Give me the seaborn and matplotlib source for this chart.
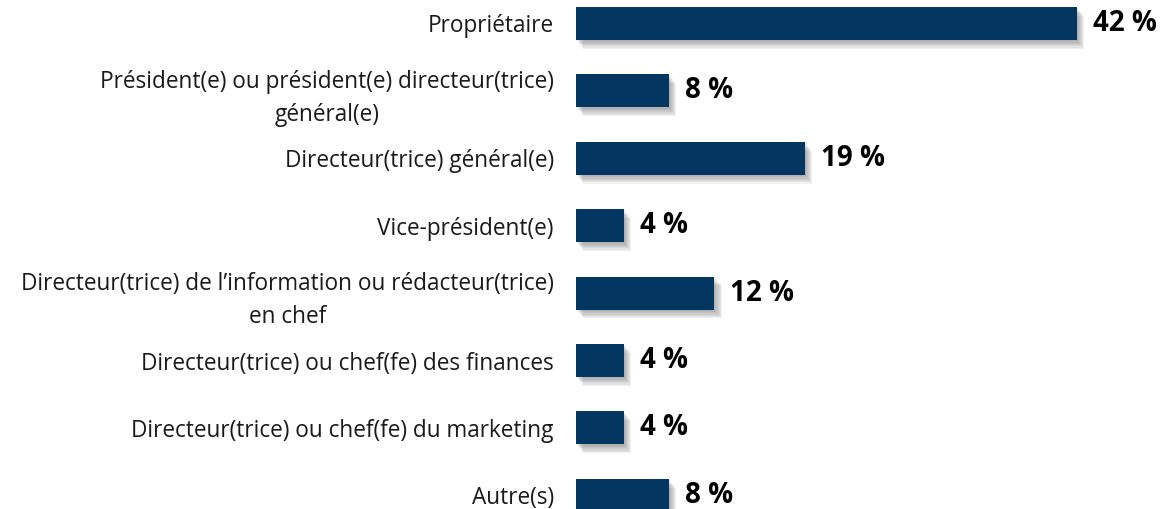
import matplotlib
matplotlib.use("Agg")
import matplotlib.pyplot as plt
import matplotlib.patheffects as pe
import seaborn as sns
import pandas as pd

categories = [
    "Propriétaire",
    "Président(e) ou président(e) directeur(trice)\ngénéral(e)",
    "Directeur(trice) général(e)",
    "Vice-président(e)",
    "Directeur(trice) de l’information ou rédacteur(trice)\nen chef",
    "Directeur(trice) ou chef(fe) des finances",
    "Directeur(trice) ou chef(fe) du marketing",
    "Autre(s)",
]
values = [42.0, 7.8, 19.2, 4.0, 11.6, 4.0, 4.0, 7.8]
value_labels = ["42 %", "8 %", "19 %", "4 %", "12 %", "4 %", "4 %", "8 %"]

df = pd.DataFrame({"cat": categories, "val": values})

sns.set_theme(style="white")
plt.rcParams["font.family"] = ["Open Sans", "DejaVu Sans"]

W, H = 1162, 509
fig = plt.figure(figsize=(W / 100, H / 100), dpi=100)
left_px = 576
px_per_unit = 501.0 / 42
xmax = 46
ax = fig.add_axes([left_px / W, 0, xmax * px_per_unit / W, 1])

bar_color = "#033660"
sns.barplot(data=df, x="val", y="cat", orient="h", color=bar_color,
            width=0.49, ax=ax, saturation=1)

shadow_layers = []
for k in range(1, 8):
    shadow_layers.append(
        pe.SimplePatchShadow(offset=(k * 0.75, -k * 0.9),
                             shadow_rgbFace="#5a5a5a", alpha=0.085))
for p in ax.patches:
    p.set_path_effects(shadow_layers + [pe.Normal()])
    p.set_edgecolor("none")

for i, (v, lab) in enumerate(zip(values, value_labels)):
    ax.text(v + 16 / px_per_unit, i, lab, va="center", ha="left",
            fontsize=20, fontweight="bold", color="black")

row_px = 67.4
ax.set_xlim(0, xmax)
ax.set_ylim((509 - 23.5) / row_px, -23.5 / row_px)
ax.set_xlabel("")
ax.set_ylabel("")
ax.set_xticks([])
ax.tick_params(axis="y", length=0, pad=16)
ax.set_yticks(range(len(categories)))
ax.set_yticklabels(categories, fontsize=16.3, color="#1a1a1a",
                   multialignment="center", linespacing=1.5)
for s in ax.spines.values():
    s.set_visible(False)

fig.savefig("out.png", dpi=100)
